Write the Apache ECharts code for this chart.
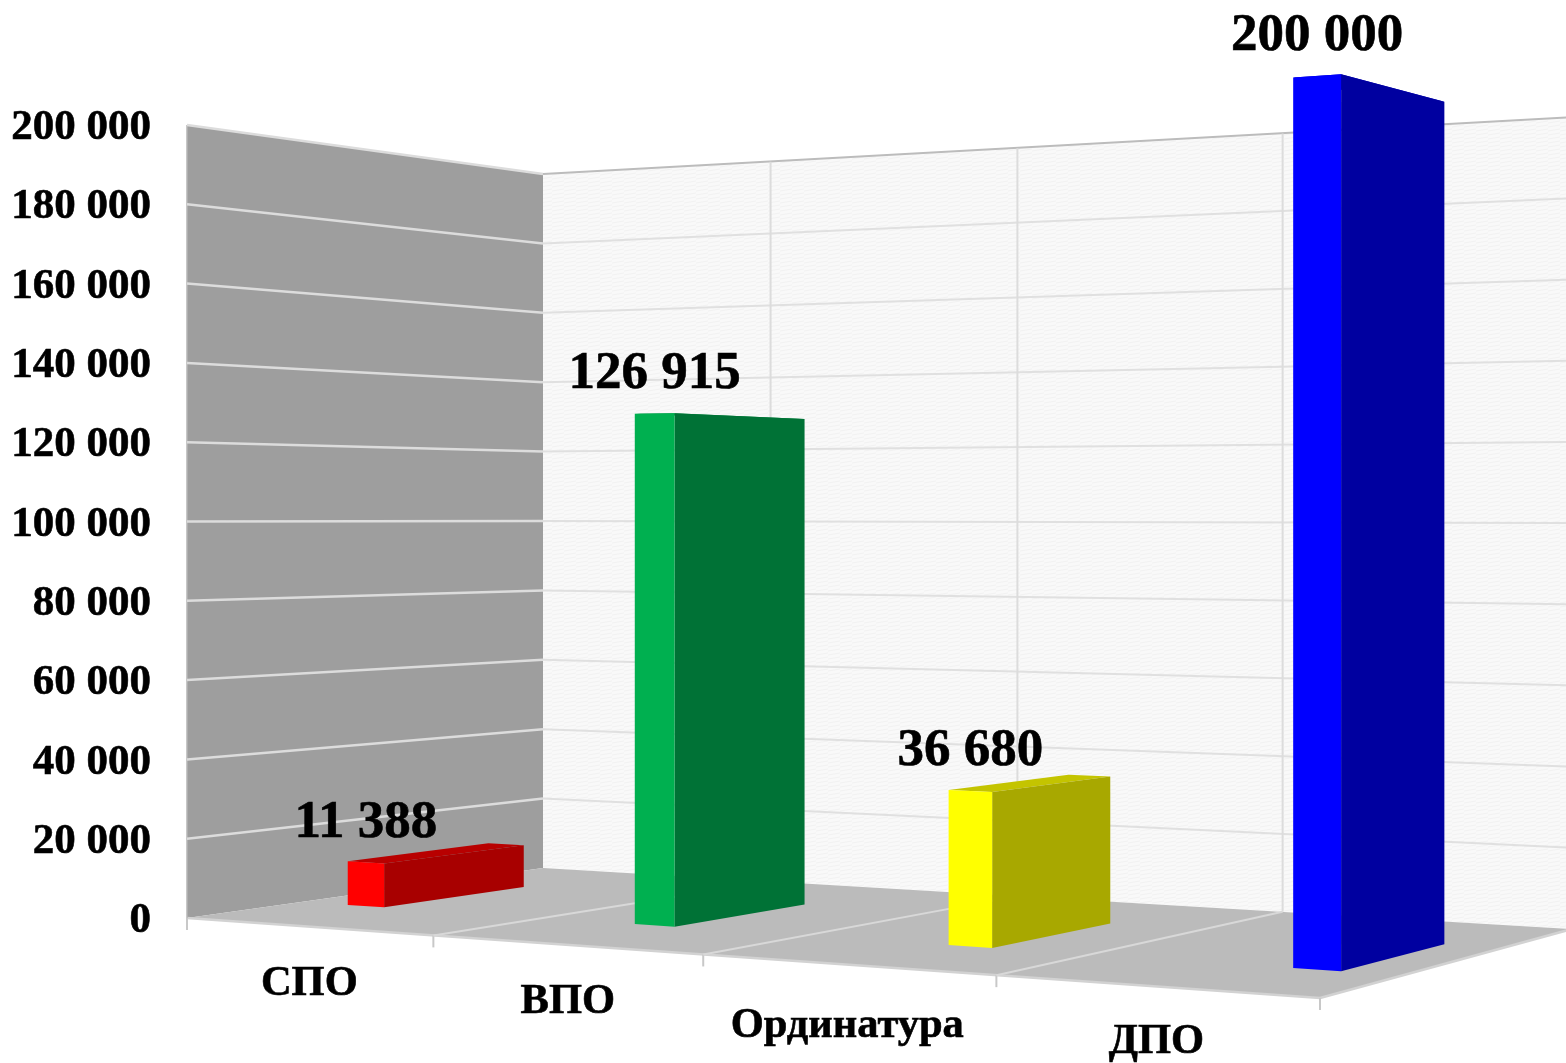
<!DOCTYPE html>
<html>
<head>
<meta charset="utf-8">
<style>
  html, body { margin: 0; padding: 0; background: #fff; }
  #chart { width: 1566px; height: 1063px; }
</style>
<script src="https://cdn.jsdelivr.net/npm/echarts@6/dist/echarts.min.js"></script>
</head>
<body>
<div id="chart"></div>
<script>
const categories = ['СПО', 'ВПО', 'Ординатура', 'ДПО']
const values = [11388, 126915, 36680, 200000]
const yTicks = [0, 20000, 40000, 60000, 80000, 100000, 120000, 140000, 160000, 180000, 200000]
const yMax = 200000

const colors = [
  { front: '#ff0000', side: '#a80000', top: '#b80000' },
  { front: '#00b050', side: '#007236', top: '#008a3e' },
  { front: '#ffff00', side: '#a8a800', top: '#c4c400' },
  { front: '#0000ff', side: '#0000a0', top: '#0000c0' }
]
// category labels do not sit quite evenly under the floor edge
const labelNudge = [[0, 0], [-1, 0], [-3, 4], [0, -1]]

const serif = '"Liberation Serif", "Times New Roman", serif'

// floor corners on screen: front-left, front-right, back-right, back-left
const A = [187, 918], B = [1320, 998], C = [1572, 929], D = [543, 868]

const sx = A[0] - B[0] + C[0] - D[0]
const sy = A[1] - B[1] + C[1] - D[1]
const dx1 = B[0] - C[0], dx2 = D[0] - C[0], dy1 = B[1] - C[1], dy2 = D[1] - C[1]
const den = dx1 * dy2 - dx2 * dy1
const g = (sx * dy2 - dx2 * sy) / den
const h = (dx1 * sy - sx * dy1) / den

// u along the categories 0..1, v into the depth 0..1, z is pixels at the front-left corner
function project(u, v, z)
{
  const w = 1 + g * u + h * v
  const x = (A[0] + (B[0] - A[0] + g * B[0]) * u + (D[0] - A[0] + h * D[0]) * v) / w
  const y = (A[1] + (B[1] - A[1] + g * B[1]) * u + (D[1] - A[1] + h * D[1]) * v) / w
  return [x, y - z / (1 - 0.166 * u + 0.1427 * v)]
}
function heightOf(api, value)
{
  return api.coord([0, 0])[1] - api.coord([0, value])[1]
}
function poly(points, fill)
{
  return { type: 'polygon', shape: { points: points }, style: { fill: fill } }
}
function line(p, q, color, width)
{
  return {
    type: 'line',
    shape: { x1: p[0], y1: p[1], x2: q[0], y2: q[1] },
    style: { stroke: color, lineWidth: width }
  }
}
function label(text, pos, size)
{
  return {
    type: 'text',
    style: {
      text: text,
      x: pos[0],
      y: pos[1],
      font: 'bold ' + size + 'px ' + serif,
      fill: '#000',
      stroke: '#000',
      lineWidth: 0.6,
      align: 'center',
      verticalAlign: 'middle'
    }
  }
}
function formatNumber(n)
{
  return String(n).replace(/\B(?=(\d{3})+$)/g, ' ')
}

// faint hatching of the back wall
function wallPattern()
{
  const c = document.createElement('canvas')
  c.width = 12
  c.height = 4
  const ctx = c.getContext('2d')
  ctx.fillStyle = '#f9f9f9'
  ctx.fillRect(0, 0, 12, 4)
  ctx.strokeStyle = '#f1f1f1'
  ctx.lineWidth = 1
  ctx.beginPath()
  ctx.moveTo(0, 3)
  ctx.lineTo(12, 1)
  ctx.stroke()
  return { image: c, repeat: 'repeat' }
}
const backFill = wallPattern()

function renderPlanes(params, api)
{
  const top = heightOf(api, yMax)
  return {
    type: 'group',
    children: [
      poly([project(0, 0, 0), project(0, 1, 0), project(0, 1, top), project(0, 0, top)], '#9e9e9e'),
      poly([project(0, 1, 0), project(1, 1, 0), project(1, 1, top), project(0, 1, top)], backFill),
      poly([project(0, 0, 0), project(1, 0, 0), project(1, 1, 0), project(0, 1, 0)], '#bbbbbb'),
      line(project(0, 0, 0), project(1, 0, 0), '#d2d2d2', 2.5),
      line(project(1, 0, 0), project(1, 1, 0), '#d2d2d2', 2.5),
      line(project(0, 0, 0), project(0, 0, top), '#b4b4b4', 1.5)
    ]
  }
}
function renderGrid(params, api)
{
  const z = heightOf(api, api.value(1))
  if (api.value(1) === 0) return { type: 'group', children: [] }
  const isTop = api.value(1) === yMax
  return {
    type: 'group',
    children: [
      line(project(0, 0, z), project(0, 1, z), '#dcdcdc', 2.5),
      line(project(0, 1, z), project(1, 1, z), isTop ? '#bcbcbc' : '#e0e0e0', 2)
    ]
  }
}
function renderDividers(params, api)
{
  const k = api.value(1)
  const inner = k > 0 && k < categories.length
  const u = k / categories.length - (inner ? 0.003 : 0)
  const top = heightOf(api, yMax)
  const p = project(u, 0, 0)
  const children = [line(p, [p[0], p[1] + 12], '#c8c8c8', 2)]
  if (inner)
  {
    children.push(line(p, project(u, 1, 0), '#d8d8d8', 2))
    children.push(line(project(u, 1, 0), project(u, 1, top), '#dcdcdc', 2))
  }
  return { type: 'group', children: children }
}
function renderBars(params, api)
{
  const i = api.value(0)
  const z = heightOf(api, api.value(1))
  const c = colors[i]
  const u0 = 0.0485 + 0.2885 * i
  const u1 = 0.0865 + 0.2885 * i
  const v0 = 0.295
  const v1 = 0.695
  const front = [project(u0, v0, 0), project(u1, v0, 0), project(u1, v0, z), project(u0, v0, z)]
  const side = [project(u1, v0, 0), project(u1, v1, 0), project(u1, v1, z), project(u1, v0, z)]
  const top = [project(u0, v0, z), project(u1, v0, z), project(u1, v1, z), project(u0, v1, z)]
  const ft = project((u0 + u1) / 2, v0, z)
  return {
    type: 'group',
    children: [
      poly(top, c.top),
      poly(side, c.side),
      poly(front, c.front),
      label(formatNumber(api.value(1)), [ft[0], ft[1] - 39.5], 53)
    ]
  }
}
function renderCategories(params, api)
{
  const i = api.value(0)
  const p = project((i + 0.5) / categories.length, 0, 0)
  return label(categories[i], [p[0] + labelNudge[i][0], p[1] + 57 + labelNudge[i][1]], 42.5)
}

const chart = echarts.init(document.getElementById('chart'))
chart.setOption({
  animation: false,
  grid: { left: 187, right: 0, top: 125, height: 793 },
  xAxis: { type: 'category', data: categories, show: false },
  yAxis: {
    type: 'value',
    min: 0,
    max: yMax,
    interval: 20000,
    axisLine: { show: false },
    axisTick: { show: false },
    splitLine: { show: false },
    axisLabel: {
      margin: 36,
      formatter: n => '{n|' + formatNumber(n) + '}',
      rich: {
        n: {
          padding: [6, 0, 0, 0],
          color: '#000',
          textBorderColor: '#000',
          textBorderWidth: 0.6,
          fontFamily: serif,
          fontWeight: 'bold',
          fontSize: 43
        }
      }
    }
  },
  series: [
    { type: 'custom', silent: true, z: 1, renderItem: renderPlanes, encode: { x: 0, y: 1 }, data: [[0, 0]] },
    { type: 'custom', silent: true, z: 2, renderItem: renderGrid, encode: { x: 0, y: 1 }, data: yTicks.map(t => [0, t]) },
    { type: 'custom', silent: true, z: 3, renderItem: renderDividers, encode: { x: 0, y: 1 }, data: [0, 1, 2, 3, 4].map(k => [0, k]) },
    { type: 'custom', silent: true, z: 4, renderItem: renderBars, encode: { x: 0, y: 1 }, data: values.map((v, i) => [i, v]) },
    { type: 'custom', silent: true, z: 5, renderItem: renderCategories, encode: { x: 0, y: 1 }, data: categories.map((c, i) => [i, 0]) }
  ]
})
</script>
</body>
</html>
